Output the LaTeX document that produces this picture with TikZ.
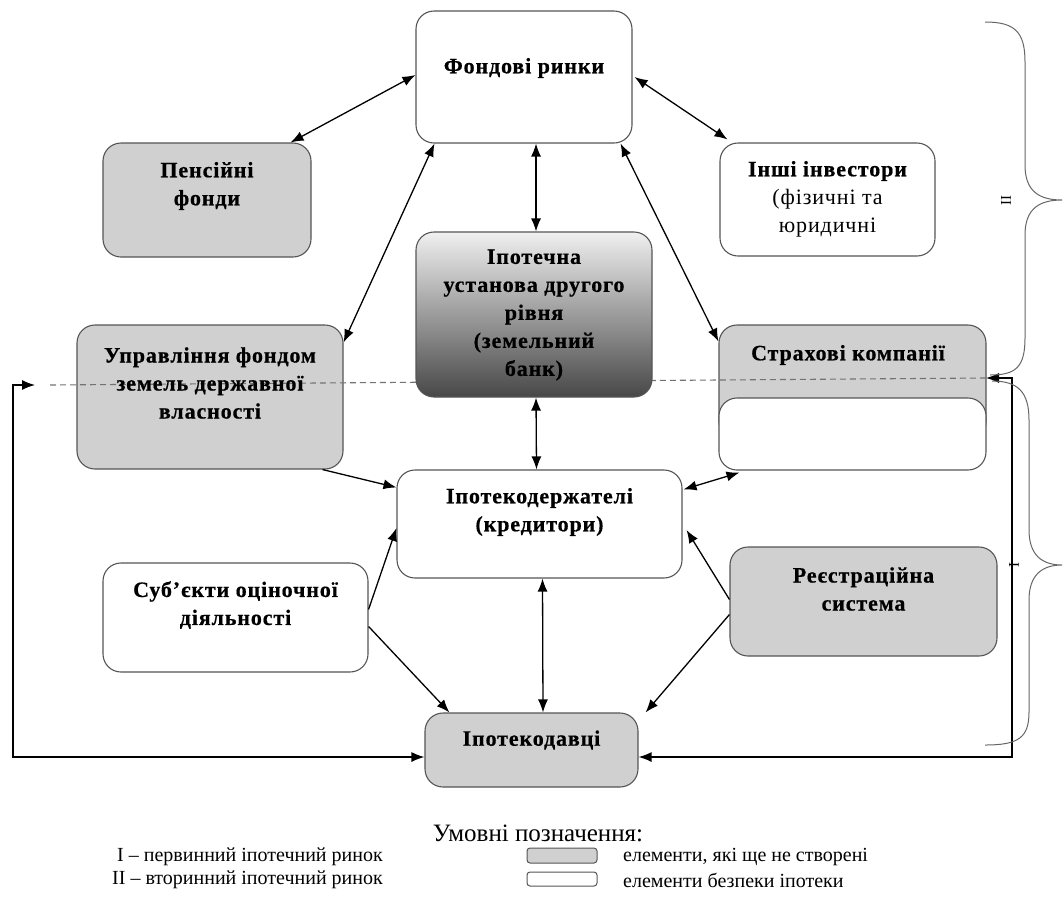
\documentclass[tikz,border=0pt]{standalone}
\usepackage{fontspec}
\setmainfont{Liberation Serif}
\newfontfamily\boxfont[LetterSpace=4,BoldFeatures={FakeBold=0.6}]{Liberation Serif}
\usetikzlibrary{arrows.meta,calc}
\definecolor{boxgrey}{HTML}{D0D0D0}
\definecolor{edgegrey}{HTML}{555555}
\begin{document}
\begin{tikzpicture}[x=1pt,y=-1pt,
  box/.style={draw=edgegrey, line width=1.1pt, rounded corners=18pt, inner sep=0pt},
  greybox/.style={box, fill=boxgrey},
  whitebox/.style={box, fill=white},
  lbl/.style={font=\boxfont\bfseries\fontsize{22}{28}\selectfont, align=center, inner sep=0pt},
  conn/.style={line width=1.3pt, {Latex[length=13pt,width=10pt]}-{Latex[length=13pt,width=10pt]}},
  oneway/.style={line width=1.3pt, -{Latex[length=13pt,width=10pt]}},
  dashln/.style={draw=black!55, line width=1.1pt, dash pattern=on 6pt off 4pt},
  bracestyle/.style={draw=black!60, line width=1pt},
  legtxt/.style={font=\fontsize{20}{22}\selectfont, inner sep=0pt, anchor=west},
]
\useasboundingbox (0,0) rectangle (1064,900);

% boxes
\node[whitebox, minimum width=216pt, minimum height=132pt] (fr) at (524,77) {};
\node[greybox, minimum width=208pt, minimum height=114pt] (pf) at (207,200) {};
\node[whitebox, minimum width=215pt, minimum height=113pt] (ii) at (827.5,199.5) {};
\node[greybox, minimum width=266pt, minimum height=144pt] (uf) at (210,397) {};
\node[greybox, minimum width=267pt, minimum height=115pt] (sk) at (852.5,382.5) {};
\node[whitebox, minimum width=267pt, minimum height=72pt] (skw) at (852.5,434) {};
\node[whitebox, minimum width=285pt, minimum height=108pt] (id) at (539.5,524) {};
\node[whitebox, minimum width=265pt, minimum height=109pt] (so) at (235.5,617.5) {};
\node[greybox, minimum width=267pt, minimum height=109pt] (rs) at (863.5,601.5) {};
\node[greybox, minimum width=213pt, minimum height=74pt] (iv) at (531.5,750) {};

% dashed line
\coordinate (dl) at (50,385);
\coordinate (lend) at (35,385);
\coordinate (rend) at (986,378);
\draw[dashln] (dl) -- (rend);

% land bank (on top of dashed line)
\node[box, top color=black!6, bottom color=black!72, minimum width=236pt, minimum height=165pt] (ib) at (534,314.5) {};

% texts
\node[lbl] (frt) at (524,68) {Фондові ринки};
\node[lbl] (pft) at (207,186) {Пенсійні\\фонди};
\node[lbl] (iit) at (827.5,199) {Інші інвестори\\\mdseries(фізичні та\\\mdseries юридичні};
\node[lbl] (ibt) at (534,315) {Іпотечна\\установа другого\\рівня\\(земельний\\банк)};
\node[lbl] (uft) at (210,383) {Управління фондом\\земель державної\\власності};
\node[lbl] (skt) at (848,355) {Страхові компанії};
\node[lbl] (idt) at (539.5,512) {Іпотекодержателі\\(кредитори)};
\node[lbl] (sot) at (235.5,605) {Суб’єкти оціночної\\діяльності};
\node[lbl] (rst) at (863.5,589) {Реєстраційна\\система};
\node[lbl] (ivt) at (531.5,740) {Іпотекодавці};

% connectors
\draw[conn] ($(fr.west)+(0,-2)$) -- ($(pf.north east)+(-21,0)$);
\draw[conn] ($(fr.east)+(2,0)$) -- ($(ii.north west)+(8,-3)$);
\draw[conn] ($(fr.south west)+(19,0)$) -- ($(uf.north east)+(0,18)$);
\draw[conn] ($(fr.south)+(12,0)$) -- ($(ib.north)+(2,0)$);
\draw[conn] ($(fr.south east)+(-12,0)$) -- ($(sk.north west)+(0,17)$);
\draw[conn] ($(ib.south)+(2,0)$) -- ($(id.north)+(-3,0)$);
\draw[oneway] ($(uf.south east)+(-21,0)$) -- ($(id.north west)+(0,18)$);
\draw[conn] ($(skw.south west)+(21,2)$) -- ($(id.north east)+(1,20)$);
\draw[oneway] ($(so.north east)+(0,47)$) -- ($(id.west)+(0,4)$);
\draw[oneway] ($(so.north east)+(0,64)$) -- ($(iv.north west)+(25,0)$);
\draw[oneway] ($(rs.west)+(0,-2)$) -- ($(id.east)+(4,6)$);
\draw[oneway] ($(rs.west)+(0,13)$) -- ($(iv.north east)+(7,0)$);
\draw[conn] ($(id.south)+(3,0)$) -- ($(iv.north)+(11.5,0)$);

% loops
\draw[conn] ($(iv.west)+(0,7)$) -| (13,385) -- (lend);
\draw[conn] ($(iv.east)+(0,7)$) -| (1012,378) -- (rend);

% braces
\draw[bracestyle] (985,22) .. controls (1015,22) and (1025,32) .. (1025,62) -- (1025,165)
  .. controls (1025,192) and (1040,200) .. (1062,200)
  .. controls (1040,200) and (1025,208) .. (1025,235) -- (1025,338)
  .. controls (1025,368) and (1015,375) .. (990,375);
\draw[bracestyle] (992,381) .. controls (1018,381) and (1029,392) .. (1029,420) -- (1029,530)
  .. controls (1029,555) and (1042,565) .. (1062,565)
  .. controls (1042,565) and (1029,575) .. (1029,600) -- (1029,712)
  .. controls (1029,738) and (1018,745) .. (985,745);
\node[rotate=-90, font=\fontsize{15}{15}\selectfont, inner sep=0pt] (b2) at (1006,200) {II};
\node[rotate=-90, font=\fontsize{15}{15}\selectfont, inner sep=0pt] (b1) at (1014,565) {I};

% legend
\node[font=\fontsize{25}{28}\selectfont, inner sep=0pt] (lt) at (538,833) {Умовні позначення:};
\node[legtxt] (l1) at (117,857) {I – первинний іпотечний ринок};
\node[legtxt] (l2) at (112,880) {II – вторинний іпотечний ринок};
\node[draw=edgegrey, line width=1pt, fill=boxgrey, rounded corners=3pt, minimum width=70pt, minimum height=15pt, inner sep=0pt] (lg) at (562,855.5) {};
\node[draw=edgegrey, line width=1pt, fill=white, rounded corners=3pt, minimum width=70pt, minimum height=14pt, inner sep=0pt] (lw) at (562,879) {};
\node[legtxt] (l3) at (623,857) {елементи, які ще не створені};
\node[legtxt] (l4) at (623,880) {елементи безпеки іпотеки};
\end{tikzpicture}
\end{document}
